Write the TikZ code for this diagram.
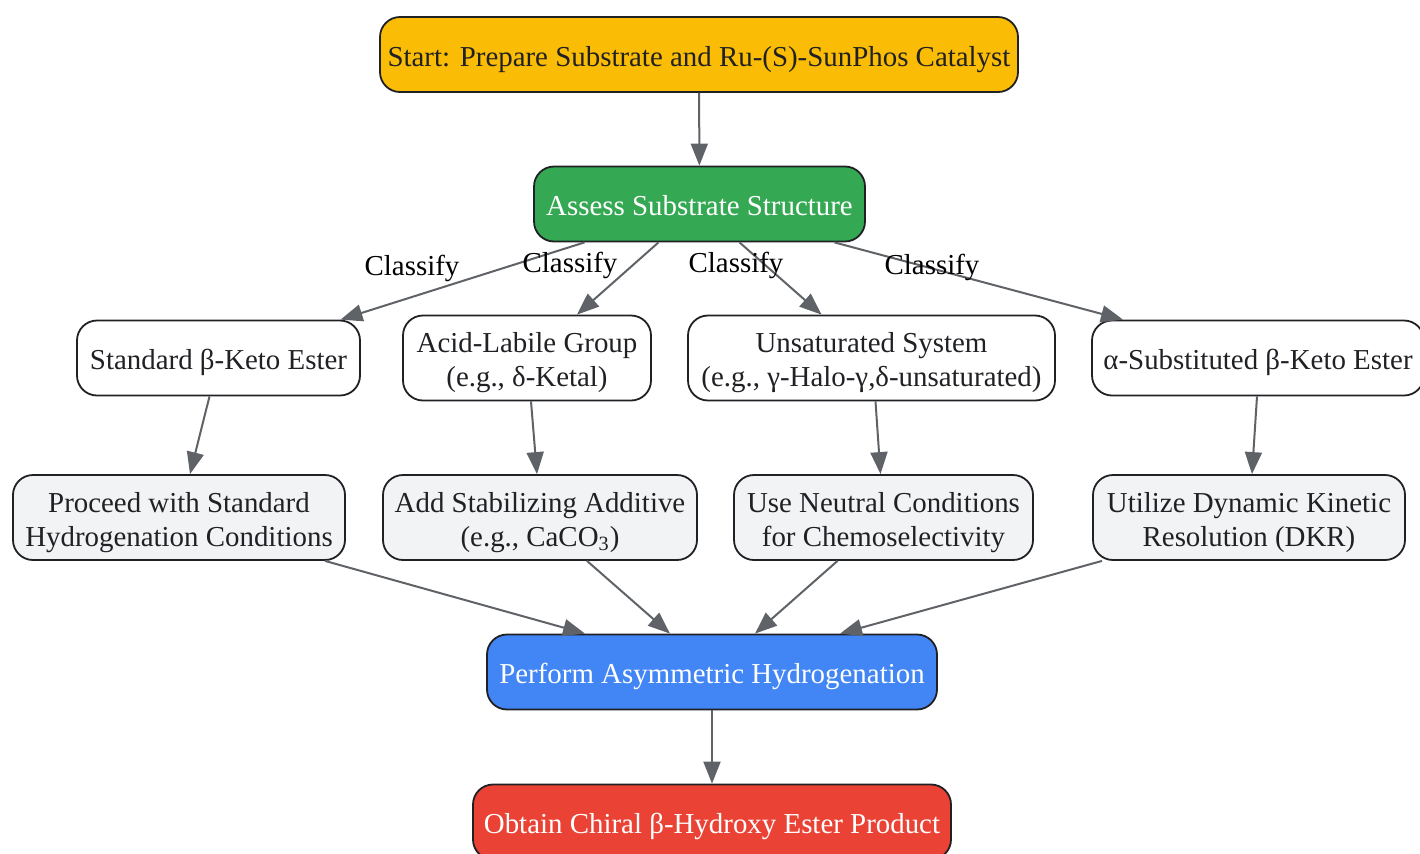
\documentclass[tikz,border=0pt]{standalone}
\usepackage{fontspec}
\setmainfont{Liberation Serif}
\usetikzlibrary{arrows.meta, calc}
\definecolor{gstart}{HTML}{FBBC05}
\definecolor{ggreen}{HTML}{34A853}
\definecolor{gblue}{HTML}{4285F4}
\definecolor{gred}{HTML}{EA4335}
\definecolor{gpale}{HTML}{F1F3F4}
\definecolor{gborder}{HTML}{202124}
\definecolor{garrow}{HTML}{5F6368}
\newcommand{\flowfont}{\fontsize{14.45}{17}\selectfont}

\begin{document}
\begin{tikzpicture}[
  x=0.5pt, y=-0.5pt,
  step box/.style={
    rectangle,
    rounded corners=10pt,
    draw=gborder,
    line width=0.9pt,
    fill=#1,
    inner sep=0pt,
    align=center,
    font=\flowfont,
    text=gborder
  },
  one line/.style={minimum height=37.5pt,
    execute at begin node={\rule[-3.2pt]{0pt}{18.2pt}}},
  two line/.style={minimum height=42.5pt,
    execute at begin node={\rule[-3.2pt]{0pt}{35pt}}},
  flow/.style={
    draw=garrow,
    line width=1pt,
    -{Triangle[length=11pt,width=8.5pt]}
  },
  tag/.style={font=\flowfont, text=black, inner sep=0pt}
]
  \useasboundingbox (0,0) rectangle (1420,853);

  % top of the flow
  \node[step box=gstart, one line, minimum width=319pt] (start) at (699,54.5)
    {Start: Prepare Substrate and Ru-(S)-SunPhos Catalyst};
  \node[step box=ggreen, one line, minimum width=165.5pt, text=white] (assess) at (699.5,204)
    {Assess Substrate Structure};

  % substrate classes
  \node[step box=white, one line, minimum width=141.5pt] (standard) at (218.5,358)
    {Standard β-Keto Ester};
  \node[step box=white, two line, minimum width=124pt] (labile) at (527,358)
    {Acid-Labile Group\\(e.g., δ-Ketal)};
  \node[step box=white, two line, minimum width=183.5pt] (unsat) at (871.5,358)
    {Unsaturated System\\(e.g., γ-Halo-γ,δ-unsaturated)};
  \node[step box=white, one line, minimum width=166pt] (alpha) at (1258,358)
    {α-Substituted β-Keto Ester};

  % conditions
  \node[step box=gpale, two line, minimum width=166pt] (proceed) at (179,517.5)
    {Proceed with Standard\\Hydrogenation Conditions};
  \node[step box=gpale, two line, minimum width=157pt] (additive) at (540,517.5)
    {Add Stabilizing Additive\\(e.g., CaCO\textsubscript{3})};
  \node[step box=gpale, two line, minimum width=149.5pt] (neutral) at (883.5,517.5)
    {Use Neutral Conditions\\for Chemoselectivity};
  \node[step box=gpale, two line, minimum width=156pt] (dkr) at (1249,517.5)
    {Utilize Dynamic Kinetic\\Resolution (DKR)};

  % bottom of the flow
  \node[step box=gblue, one line, minimum width=225pt, text=white] (perform) at (712,672)
    {Perform Asymmetric Hydrogenation};
  \node[step box=gred, one line, minimum width=239pt, text=white] (obtain) at (712,822)
    {Obtain Chiral β-Hydroxy Ester Product};

  \draw[flow] (start) -- (assess);

  \draw[flow] ($(assess.south)+(-115,0)$) -- ($(standard.north)+(122,0)$);
  \draw[flow] ($(assess.south)+(-41,0)$) -- ($(labile.north)+(50,0)$);
  \draw[flow] ($(assess.south)+(40,0)$) -- ($(unsat.north)+(-50,0)$);
  \draw[flow] ($(assess.south)+(135,0)$) -- ($(alpha.north)+(-135,0)$);

  \node[tag] (tag1) at (412,268) {Classify};
  \node[tag] (tag2) at (570,265) {Classify};
  \node[tag] (tag3) at (736,265) {Classify};
  \node[tag] (tag4) at (932,267) {Classify};

  \draw[flow] ($(standard.south)+(-9,0)$) -- ($(proceed.north)+(11,0)$);
  \draw[flow] ($(labile.south)+(4,0)$) -- ($(additive.north)+(-3,0)$);
  \draw[flow] ($(unsat.south)+(4,0)$) -- ($(neutral.north)+(-3,0)$);
  \draw[flow] ($(alpha.south)+(-1,0)$) -- ($(dkr.north)+(3,0)$);

  \draw[flow] ($(proceed.south)+(146,0)$) -- ($(perform.north)+(-127,0)$);
  \draw[flow] ($(additive.south)+(47,0)$) -- ($(perform.north)+(-42,0)$);
  \draw[flow] ($(neutral.south)+(-46,0)$) -- ($(perform.north)+(43,0)$);
  \draw[flow] ($(dkr.south)+(-147,0)$) -- ($(perform.north)+(128,0)$);

  \draw[flow] (perform) -- (obtain);
\end{tikzpicture}
\end{document}
